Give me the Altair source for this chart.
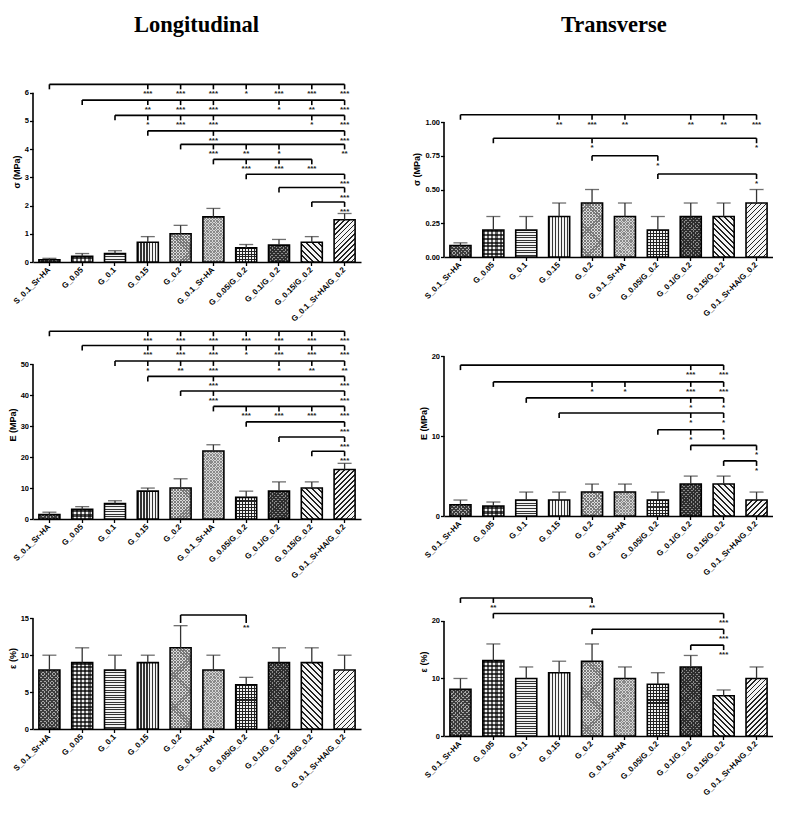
import altair as alt
import pandas as pd

groups = ["S_0.1_Sr-HA", "G_0.05", "G_0.1", "G_0.15", "G_0.2", "G_0.1_Sr-HA",
          "G_0.05/G_0.2", "G_0.1/G_0.2", "G_0.15/G_0.2", "G_0.1_Sr-HA/G_0.2"]

# tensile strength (MPa)
sigma_long_mean = [0.08, 0.2, 0.3, 0.7, 1.0, 1.6, 0.5, 0.6, 0.7, 1.5]
sigma_long_err = [0.05, 0.1, 0.1, 0.2, 0.3, 0.3, 0.12, 0.2, 0.2, 0.22]
sigma_trans_mean = [0.085, 0.2, 0.2, 0.3, 0.4, 0.3, 0.2, 0.3, 0.3, 0.4]
sigma_trans_err = [0.02, 0.1, 0.1, 0.1, 0.1, 0.1, 0.1, 0.1, 0.1, 0.1]

# elastic modulus (MPa)
e_long_mean = [1.4, 3.1, 5.0, 9.0, 10.0, 22.0, 7.0, 9.0, 10.0, 16.0]
e_long_err = [0.8, 0.9, 0.9, 1.0, 3.0, 2.0, 2.0, 3.0, 2.0, 2.0]
e_trans_mean = [1.4, 1.25, 2.0, 2.0, 3.0, 3.0, 2.0, 4.0, 4.0, 2.0]
e_trans_err = [0.6, 0.5, 1.0, 1.0, 1.0, 1.0, 1.0, 1.0, 1.0, 1.0]

# strain at break (%)
eps_long_mean = [8, 9, 8, 9, 11, 8, 6, 9, 9, 8]
eps_long_err = [2, 2, 2, 1, 3, 2, 1, 2, 2, 2]
eps_trans_mean = [8.1, 13.1, 10, 11, 13, 10, 9, 12, 7, 10]
eps_trans_err = [1.9, 2.9, 2, 2, 3, 2, 2, 2, 1, 2]

# significance brackets: (level, from group, to group, [(group, stars), ...])
sigma_long_sig = [
    (6.30, 0, 9, [(3, "***"), (4, "***"), (5, "***"), (6, "*"), (7, "***"), (8, "***"), (9, "***")]),
    (5.74, 1, 9, [(3, "**"), (4, "***"), (5, "***"), (7, "*"), (8, "**"), (9, "***")]),
    (5.20, 2, 9, [(3, "*"), (4, "***"), (5, "***"), (8, "*"), (9, "***")]),
    (4.65, 3, 9, [(5, "***"), (9, "***")]),
    (4.17, 4, 9, [(5, "***"), (6, "**"), (7, "*"), (9, "**")]),
    (3.64, 5, 8, [(6, "***"), (7, "***"), (8, "***")]),
    (3.11, 6, 9, [(9, "***")]),
    (2.64, 7, 9, [(9, "***")]),
    (2.13, 8, 9, [(9, "***")]),
]
sigma_trans_sig = [
    (1.054, 0, 9, [(3, "**"), (4, "***"), (5, "**"), (7, "**"), (8, "**"), (9, "***")]),
    (0.88, 1, 9, [(4, "*"), (9, "*")]),
    (0.75, 4, 6, [(6, "*")]),
    (0.615, 6, 9, [(9, "*")]),
]
e_long_sig = [
    (60.7, 0, 9, [(3, "***"), (4, "***"), (5, "***"), (6, "***"), (7, "***"), (8, "***"), (9, "***")]),
    (56.1, 1, 9, [(3, "***"), (4, "***"), (5, "***"), (6, "*"), (7, "***"), (8, "***"), (9, "***")]),
    (51.1, 2, 9, [(3, "*"), (4, "**"), (5, "***"), (7, "*"), (8, "**"), (9, "**")]),
    (46.1, 3, 9, [(5, "***"), (9, "***")]),
    (41.4, 4, 9, [(5, "***"), (9, "***")]),
    (36.4, 5, 9, [(6, "***"), (7, "***"), (8, "***"), (9, "***")]),
    (31.4, 6, 9, [(9, "***")]),
    (26.5, 7, 9, [(9, "***")]),
    (21.9, 8, 9, [(9, "***")]),
]
e_trans_sig = [
    (18.9, 0, 8, [(7, "***"), (8, "***")]),
    (16.8, 1, 8, [(4, "*"), (5, "*"), (7, "***"), (8, "***")]),
    (14.8, 2, 8, [(7, "*"), (8, "*")]),
    (12.9, 3, 8, [(7, "*"), (8, "*")]),
    (10.8, 6, 8, [(7, "*"), (8, "*")]),
    (8.85, 7, 9, [(9, "*")]),
    (6.9, 8, 9, [(9, "*")]),
]
eps_long_sig = [
    (15.45, 4, 6, [(6, "**")]),
]
eps_trans_sig = [
    (24.0, 0, 4, [(1, "**"), (4, "**")]),
    (21.3, 1, 8, [(8, "***")]),
    (18.55, 4, 8, [(8, "***")]),
    (15.8, 7, 8, [(8, "***")]),
]

# hatch look of each group, imitated with hard-stop gradients:
# (direction, pitch px, dark share, dark colour, light colour); later entries overlay
CLEAR = "rgba(0,0,0,0)"
hatches = [
    [("slash", 2.6, 0.45, "#3c3c3c", "#a8a8a8"), ("back", 2.6, 0.45, "#3c3c3c", CLEAR)],
    [("h", 4.0, 0.5, "#4a4a4a", "#f2f2f2"), ("v", 4.0, 0.5, "rgba(0,0,0,0.6)", CLEAR)],
    [("h", 2.5, 0.4, "#333333", "#f2f2f2")],
    [("v", 3.0, 0.4, "#333333", "#f2f2f2")],
    [("slash", 2.2, 0.4, "#7a7a7a", "#dcdcdc"), ("back", 2.2, 0.4, "#7a7a7a", CLEAR)],
    [("slash", 2.0, 0.35, "#8a8a8a", "#d6d6d6"), ("back", 2.0, 0.35, "#8a8a8a", CLEAR)],
    [("h", 3.0, 0.35, "#222222", "#f2f2f2"), ("v", 3.0, 0.35, "#222222", CLEAR)],
    [("slash", 2.6, 0.5, "#2e2e2e", "#8c8c8c"), ("back", 2.6, 0.5, "#2e2e2e", CLEAR)],
    [("back", 4.0, 0.35, "#222222", "#f4f4f4")],
    [("slash", 3.5, 0.35, "#222222", "#f4f4f4")],
]

PAD_IN, PAD_OUT = 0.36, 0.18


def stripes(direction, pitch, share, dark, light, w, h):
    if direction == "h":
        n, ends = h / pitch, dict(x1=0, y1=0, x2=0, y2=1)
    elif direction == "v":
        n, ends = w / pitch, dict(x1=0, y1=0, x2=1, y2=0)
    else:
        k = w * (w + h) / (w * w + h * h)
        n = (w + h) / (1.414 * pitch)
        if direction == "slash":
            ends = dict(x1=0, y1=0, x2=k, y2=k * h / w)
        else:
            ends = dict(x1=0, y1=1, x2=k, y2=1 - k * h / w)
    n = max(1, int(round(n)))
    stops = []
    for i in range(n):
        a, b, c = i / n, (i + share) / n, (i + 1) / n
        stops += [{"offset": a, "color": dark}, {"offset": b, "color": dark},
                  {"offset": b, "color": light}, {"offset": c, "color": light}]
    return {"gradient": "linear", "stops": stops, **ends}


def make_panel(mean, err, sig, ticks, fmt, ytitle, width, height, top, drop=5):
    bar_df = pd.DataFrame({
        "group": groups,
        "mean": mean,
        "upper": [m + e for m, e in zip(mean, err)],
    })
    lines, drops, stars = [], [], []
    for level, a, b, marks in sig:
        lines.append({"start": groups[a], "end": groups[b], "level": level})
        drops.append({"group": groups[a], "level": level})
        for i, s in marks:
            drops.append({"group": groups[i], "level": level})
            stars.append({"group": groups[i], "level": level, "stars": s})

    xscale = alt.Scale(domain=groups, paddingInner=PAD_IN, paddingOuter=PAD_OUT)
    xaxis = alt.Axis(title=None, labelAngle=-45, labelAlign="right",
                     labelBaseline="middle", labelPadding=3, labelFontSize=8)
    yscale = alt.Scale(domain=[0, top], nice=False)
    yaxis = alt.Axis(values=ticks, format=fmt, title=ytitle, domain=False,
                     grid=False, titlePadding=3)

    def X(f):
        return alt.X(f"{f}:N", scale=xscale, axis=xaxis, sort=groups)

    def Y(f):
        return alt.Y(f"{f}:Q", scale=yscale, axis=yaxis)

    bar_w = width / (len(groups) - PAD_IN + 2 * PAD_OUT) * (1 - PAD_IN)
    layers = []
    for i, g in enumerate(groups):
        one = alt.Chart(bar_df.iloc[[i]])
        bar_h = max(1.0, mean[i] / top * height)
        for spec in hatches[i]:
            layers.append(one.mark_bar(
                fill=stripes(*spec, bar_w, bar_h), strokeWidth=0).encode(
                x=X("group"), y=Y("mean")))

    base = alt.Chart(bar_df)
    outline = base.mark_bar(fillOpacity=0, stroke="black", strokeWidth=1.6).encode(
        x=X("group"), y=Y("mean"))
    err_line = base.mark_rule(color="#333333", strokeWidth=1.3).encode(
        x=X("group"), y=Y("mean"), y2="upper")
    caps = base.mark_tick(orient="horizontal", size=14, thickness=1.3,
                          color="#333333").encode(x=X("group"), y=Y("upper"))

    axis_line = alt.Chart(pd.DataFrame({"lo": [0], "hi": [ticks[-1]]})).mark_rule(
        color="black", strokeWidth=1.6).encode(x=alt.value(0), y=Y("lo"), y2="hi")

    br_lines = alt.Chart(pd.DataFrame(lines)).mark_rule(
        color="black", strokeWidth=1.6).encode(
        x=X("start"), x2="end", y=Y("level"))
    br_drops = alt.Chart(pd.DataFrame(drops)).mark_rule(
        color="black", strokeWidth=1.6, y2Offset=drop).encode(
        x=X("group"), y=Y("level"), y2="level")
    br_stars = alt.Chart(pd.DataFrame(stars)).mark_text(
        baseline="top", dy=drop + 1, fontSize=8, fontWeight="bold",
        color="#222222").encode(x=X("group"), y=Y("level"), text="stars:N")

    layers += [outline, err_line, caps, axis_line, br_lines, br_drops, br_stars]
    return alt.layer(*layers).properties(width=width, height=height)


title_style = dict(font="Liberation Serif", fontSize=22.5, fontWeight="bold",
                   color="black", anchor="start", frame="group", offset=45)

p1 = make_panel(sigma_long_mean, sigma_long_err, sigma_long_sig,
                [0, 1, 2, 3, 4, 5, 6], "d", "σ (MPa)", 328, 181, 6.418).properties(
    title=alt.TitleParams("Longitudinal", dx=101, **title_style))
p2 = make_panel(sigma_trans_mean, sigma_trans_err, sigma_trans_sig,
                [0, 0.25, 0.5, 0.75, 1.0], ".2f", "σ (MPa)", 329, 176, 1.304).properties(
    title=alt.TitleParams("Transverse", dx=117, **title_style))
p3 = make_panel(e_long_mean, e_long_err, e_long_sig,
                [0, 10, 20, 30, 40, 50], "d", "E (MPa)", 328, 189, 61.1)
p4 = make_panel(e_trans_mean, e_trans_err, e_trans_sig,
                [0, 10, 20], "d", "E (MPa)", 329, 186, 23.3)
p5 = make_panel(eps_long_mean, eps_long_err, eps_long_sig,
                [0, 5, 10, 15], "d", "ε (%)", 328, 142, 19.24, drop=8)
p6 = make_panel(eps_trans_mean, eps_trans_err, eps_trans_sig,
                [0, 10, 20], "d", "ε (%)", 329, 149, 25.9)

chart = alt.concat(
    p1, p2, p3, p4, p5, p6, columns=2,
    spacing={"row": 68, "column": 83}, bounds="flush",
).properties(
    padding={"left": 0, "top": 5, "right": 0, "bottom": 0}
).configure_view(
    stroke=None
).configure_axis(
    labelFont="Liberation Sans", labelFontSize=7.5, labelFontWeight="bold",
    labelColor="black", titleFont="Liberation Sans", titleFontSize=9,
    titleFontWeight="bold", titleColor="black", domainColor="black",
    domainWidth=1.6, tickColor="black", tickWidth=1.3, tickSize=3.5,
    labelPadding=1,
)

chart.save("out.html", embed_options={"renderer": "svg", "actions": False})
